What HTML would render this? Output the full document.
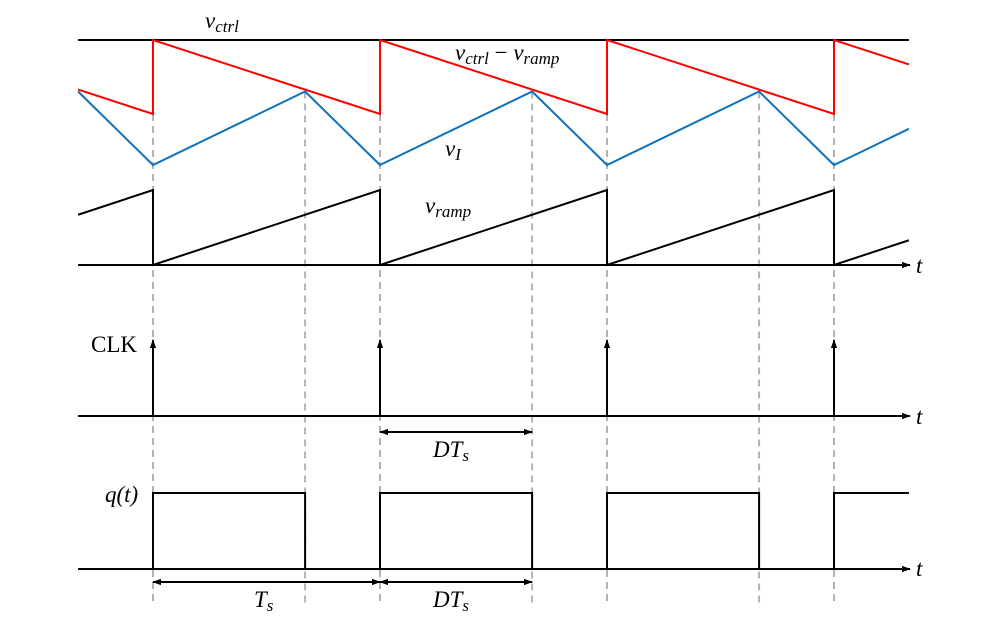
<!DOCTYPE html>
<html><head><meta charset="utf-8"><style>
html,body{margin:0;padding:0;background:#fff}
svg{display:block}
text{font-family:"Liberation Serif",serif;fill:#000}
</style></head><body>
<svg id="chart" width="988" height="626" viewBox="0 0 988 626" xmlns="http://www.w3.org/2000/svg">
<defs>
<marker id="ah" viewBox="0 0 10 10" refX="9" refY="5" markerWidth="9" markerHeight="9" orient="auto-start-reverse" markerUnits="userSpaceOnUse"><path d="M0,1.5 L10,5 L0,8.5 Z" fill="#000"/></marker>
</defs>
<g id="grid"></g>
<g id="marks"></g>
<g id="labels">
<text x="205" y="28" font-size="23" font-style="italic">v<tspan font-size="17" dy="4">ctrl</tspan></text>
<text x="455" y="60" font-size="23" font-style="italic">v<tspan font-size="17" dy="4">ctrl</tspan><tspan dy="-4" font-style="normal"> − </tspan>v<tspan font-size="17" dy="4">ramp</tspan></text>
<text x="445" y="156" font-size="23" font-style="italic">v<tspan font-size="17" dy="4">I</tspan></text>
<text x="425" y="213" font-size="23" font-style="italic">v<tspan font-size="17" dy="4">ramp</tspan></text>
<text x="91" y="352" font-size="23">CLK</text>
<text x="105" y="502" font-size="23" font-style="italic">q(t)</text>
<text x="916" y="273" font-size="23" font-style="italic">t</text>
<text x="916" y="424" font-size="23" font-style="italic">t</text>
<text x="916" y="576" font-size="23" font-style="italic">t</text>
<text x="433" y="457" font-size="23" font-style="italic">DT<tspan font-size="17" dy="4">s</tspan></text>
<text x="254" y="607" font-size="23" font-style="italic">T<tspan font-size="17" dy="4">s</tspan></text>
<text x="433" y="607" font-size="23" font-style="italic">DT<tspan font-size="17" dy="4">s</tspan></text>
</g>
</svg>
<script>
// data (time in periods, values normalized)
const clockEdges = [0, 1, 2, 3];
const duty = 0.67;
const ctrlLevel = 1.0;      // v_ctrl
const rampPeak = 1.0;       // v_ramp peak
const viLow = 0.0, viHigh = 0.98; // v_I valley / peak
const tStart = -0.33, tEnd = 3.33;

const NS = "http://www.w3.org/2000/svg";
const X = t => 153 + t * 227;
const YU = v => 114 - v * 74;          // red: ctrl-ramp
const YI = v => 165 - v * 75;          // blue v_I
const YR = v => 265 - v * 75;          // ramp
const marks = document.getElementById('marks');
const grid = document.getElementById('grid');

function poly(pts, color, name, w) {
  const p = document.createElementNS(NS, 'polyline');
  p.setAttribute('points', pts.map(q => q.join(',')).join(' '));
  p.setAttribute('fill', 'none'); p.setAttribute('stroke', color);
  p.setAttribute('stroke-width', w || 2);
  
  
  marks.appendChild(p); return p;
}
function line(x1, y1, x2, y2, name, arrowStart, arrowEnd) {
  const l = document.createElementNS(NS, 'line');
  l.setAttribute('x1', x1); l.setAttribute('y1', y1); l.setAttribute('x2', x2); l.setAttribute('y2', y2);
  l.setAttribute('stroke', '#000'); l.setAttribute('stroke-width', 2);
  if (arrowStart) l.setAttribute('marker-start', 'url(#ah)');
  if (arrowEnd) l.setAttribute('marker-end', 'url(#ah)');
  
  
  marks.appendChild(l);
}

// dashed guides
const guides = [];
clockEdges.forEach(c => { guides.push([c, YU(0)]); if (c + duty < tEnd) guides.push([c + duty, YI(viHigh)]); });
guides.forEach(g => {
  const l = document.createElementNS(NS, 'line');
  l.setAttribute('x1', X(g[0])); l.setAttribute('x2', X(g[0]));
  l.setAttribute('y1', g[1]); l.setAttribute('y2', 606);
  l.setAttribute('stroke', '#b3b3b3'); l.setAttribute('stroke-width', 2);
  l.setAttribute('stroke-dasharray', '7,5');
  
  
  grid.appendChild(l);
});

// v_ctrl
line(X(tStart), YU(ctrlLevel), X(tEnd), YU(ctrlLevel), 'vctrl-line');

const red = [], ramp = [], blue = [];
red.push([X(tStart), YU(ctrlLevel - (tStart + 1))]);
ramp.push([X(tStart), YR(tStart + 1)]);
clockEdges.forEach(c => {
  red.push([X(c), YU(0)]); red.push([X(c), YU(ctrlLevel)]);
  ramp.push([X(c), YR(rampPeak)]); ramp.push([X(c), YR(0)]);
});
red.push([X(tEnd), YU(ctrlLevel - (tEnd - 3))]);
ramp.push([X(tEnd), YR(tEnd - 3)]);
blue.push([X(tStart), YI(viHigh)]);
clockEdges.forEach(c => {
  blue.push([X(c), YI(viLow)]);
  if (c + duty <= tEnd) blue.push([X(c + duty), YI(viHigh)]);
});
blue.push([X(tEnd), YI(viLow + (viHigh - viLow) * (tEnd - 3) / duty)]);
poly(blue, '#0e72bd', 'vi-waveform');
poly(red, '#f00', 'vctrl-minus-vramp-waveform');
poly(ramp, '#000', 'vramp-waveform');

// axes
line(X(tStart), 265, 910, 265, 'ramp-time-axis', false, true);
line(X(tStart), 416, 910, 416, 'clk-time-axis', false, true);
line(X(tStart), 569, 910, 569, 'q-time-axis', false, true);

// clock pulses
clockEdges.forEach(c => line(X(c), 416, X(c), 340, 'clk-pulse', false, true));

// q(t)
clockEdges.forEach(c => {
  const e = Math.min(c + duty, tEnd);
  const pts = [[X(c), 569], [X(c), 493], [X(e), 493]];
  if (c + duty <= tEnd) pts.push([X(e), 569]);
  poly(pts, '#000', 'q-pulse');
});

// dimension arrows
line(X(1), 432, X(1 + duty), 432, 'dts-dimension-clk', true, true);
line(X(0), 582, X(1), 582, 'ts-dimension', true, true);
line(X(1), 582, X(1 + duty), 582, 'dts-dimension-q', true, true);
</script>
</body></html>
